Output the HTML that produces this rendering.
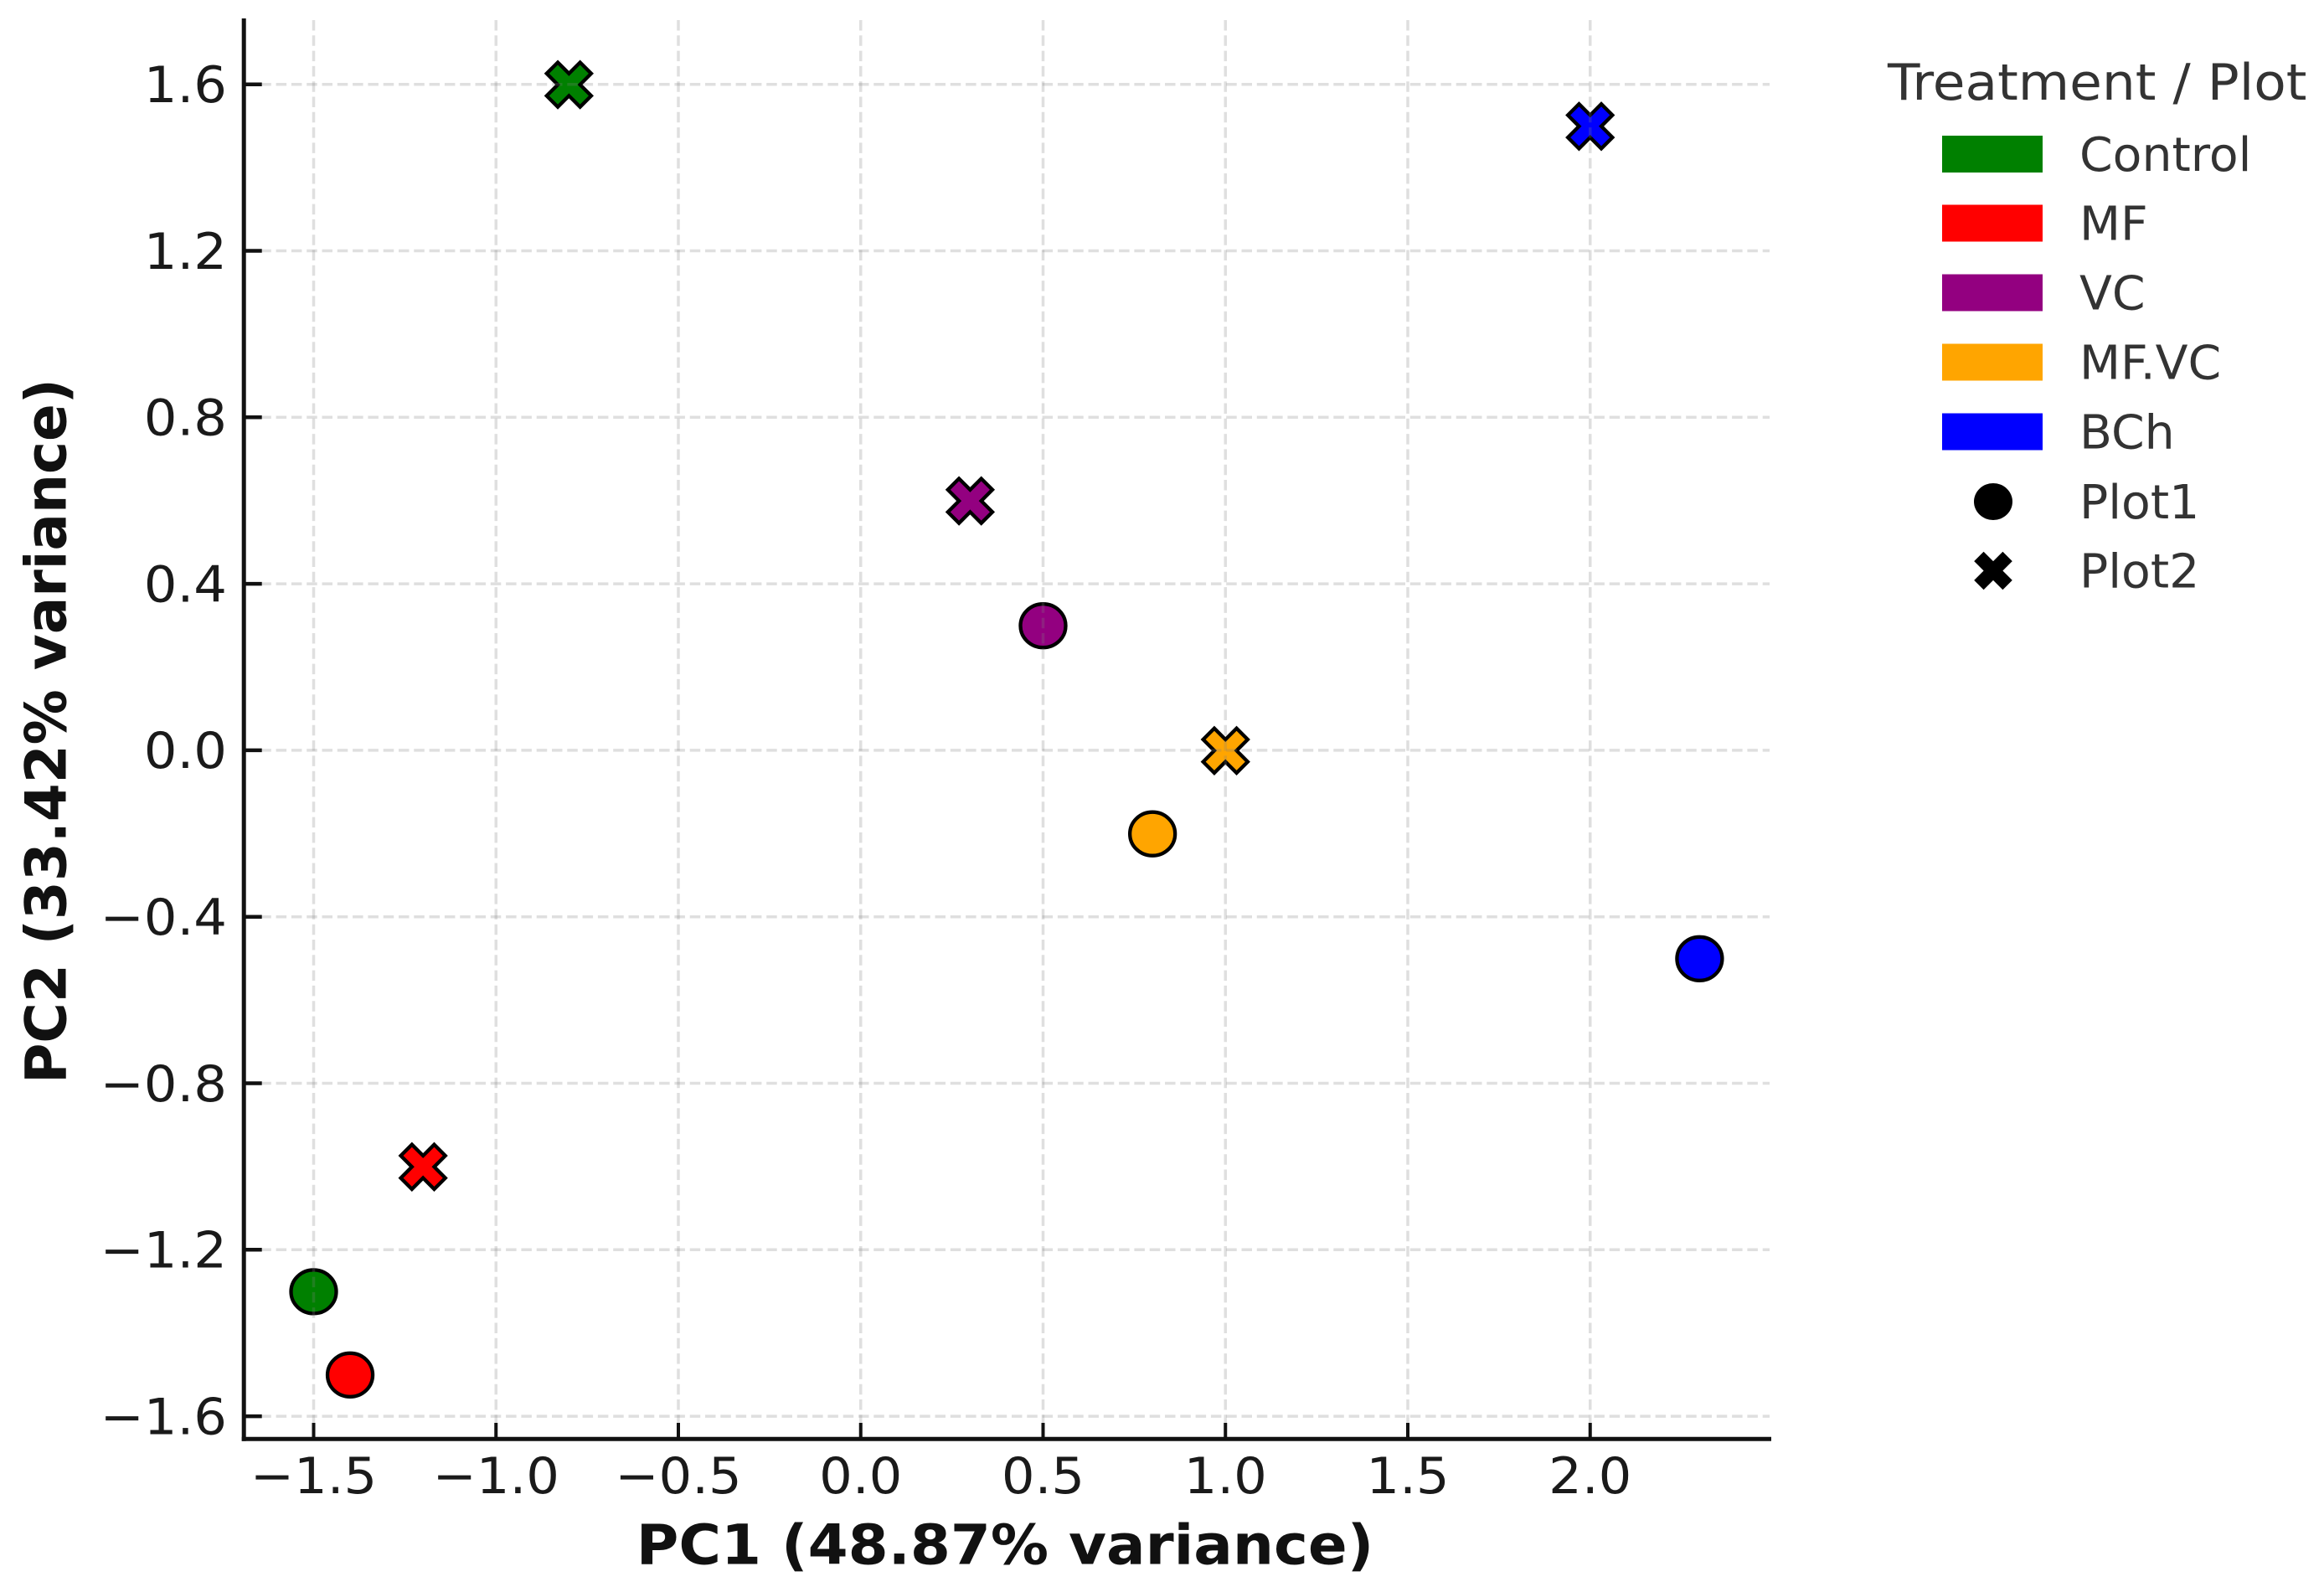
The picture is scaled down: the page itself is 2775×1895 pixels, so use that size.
<!DOCTYPE html>
<html>
<head>
<meta charset="utf-8">
<title>PCA scatter</title>
<style>
html,body{margin:0;padding:0;background:#fff;}
svg{display:block;font-family:"DejaVu Sans","Liberation Sans",sans-serif;}
</style>
</head>
<body>
<svg id="chart" xmlns="http://www.w3.org/2000/svg" width="2775" height="1895" viewBox="0 0 2775 1895">
<rect x="0" y="0" width="2775" height="1895" fill="#ffffff"/>
<g id="marks"></g>
<g id="grid"></g>
<g id="axes"></g>
<text transform="translate(1200 1867.5) scale(1.046 1)" text-anchor="middle" font-size="66" font-weight="700" fill="#111111">PC1 (48.87% variance)</text>
<text transform="translate(78.7 873) scale(1.03 1) rotate(-90)" text-anchor="middle" font-size="66" font-weight="700" fill="#111111">PC2 (33.42% variance)</text>
<g id="legend">
<text transform="translate(2254 119) scale(1.05 1)" font-size="60" fill="#333333">Treatment / Plot</text>
</g>
</svg>
<script>
const xTickValues = [-1.5, -1.0, -0.5, 0.0, 0.5, 1.0, 1.5, 2.0];
const xTickLabels = ['−1.5', '−1.0', '−0.5', '0.0', '0.5', '1.0', '1.5', '2.0'];
const yTickValues = [1.6, 1.2, 0.8, 0.4, 0.0, -0.4, -0.8, -1.2, -1.6];
const yTickLabels = ['1.6', '1.2', '0.8', '0.4', '0.0', '−0.4', '−0.8', '−1.2', '−1.6'];
const treatments = ['Control', 'MF', 'VC', 'MF.VC', 'BCh'];
const treatmentColors = ['#008000', '#ff0000', '#930080', '#ffa500', '#0000ff'];
const plot1X = [-1.5, -1.4, 0.5, 0.8, 2.3];
const plot1Y = [-1.3, -1.5, 0.3, -0.2, -0.5];
const plot2X = [-0.8, -1.2, 0.3, 1.0, 2.0];
const plot2Y = [1.6, -1.0, 0.6, 0.0, 1.5];

const NS = 'http://www.w3.org/2000/svg';
function xScale(v) { return 374.5 + (v + 1.5) * 435.5; }
function yScale(v) { return 100.7 + (1.6 - v) * 497; }
function mk(parent, tag, attrs, text) {
  const el = document.createElementNS(NS, tag);
  for (const k in attrs) el.setAttribute(k, attrs[k]);
  if (text !== undefined) el.textContent = text;
  parent.appendChild(el);
  return el;
}
const X_SHAPE = [[-1,-2],[0,-1],[1,-2],[2,-1],[1,0],[2,1],[1,2],[0,1],[-1,2],[-2,1],[-1,0],[-2,-1]];
function xPoints(cx, cy, u) {
  return X_SHAPE.map(function (p) { return (cx + p[0] * u).toFixed(2) + ',' + (cy + p[1] * u).toFixed(2); }).join(' ');
}

const marks = document.getElementById('marks');
const grid = document.getElementById('grid');
const axes = document.getElementById('axes');
const legend = document.getElementById('legend');

treatments.forEach(function (t, i) {
  const c = mk(marks, 'ellipse', { cx: xScale(plot1X[i]), cy: yScale(plot1Y[i]) + 0.4, rx: 27, ry: 26, fill: treatmentColors[i], stroke: '#000000', 'stroke-width': 4.3 });
  
  
  const m = mk(marks, 'polygon', { points: xPoints(xScale(plot2X[i]), yScale(plot2Y[i]) + 0.4, 13.3), fill: treatmentColors[i], stroke: '#000000', 'stroke-width': 4.3, 'stroke-linejoin': 'miter' });
  
  
});

xTickValues.forEach(function (v, i) {
  const px = xScale(v);
  const g = mk(grid, 'line', { x1: px, x2: px, y1: 24, y2: 1716, stroke: '#808080', 'stroke-opacity': 0.25, 'stroke-width': 3.5, 'stroke-dasharray': '12.5 5.8' });
  
  
  const t = mk(axes, 'line', { x1: px, x2: px, y1: 1699, y2: 1718, stroke: '#111111', 'stroke-width': 4 });
  
  
  const l = mk(axes, 'text', { transform: 'translate(' + px + ' 1783) scale(1.04 1)', 'text-anchor': 'middle', 'font-size': 60, fill: '#1a1a1a' }, xTickLabels[i]);
  
  
});
yTickValues.forEach(function (v, i) {
  const py = yScale(v);
  const g = mk(grid, 'line', { x1: 293, x2: 2113, y1: py, y2: py, stroke: '#808080', 'stroke-opacity': 0.25, 'stroke-width': 3.5, 'stroke-dasharray': '12.5 5.8' });
  
  
  const t = mk(axes, 'line', { x1: 291, x2: 312.7, y1: py, y2: py, stroke: '#111111', 'stroke-width': 4.5 });
  
  
  const l = mk(axes, 'text', { transform: 'translate(271 ' + (py + 21.3) + ') scale(1.04 1)', 'text-anchor': 'end', 'font-size': 60, fill: '#1a1a1a' }, yTickLabels[i]);
  
  
});

const ySpine = mk(axes, 'line', { x1: 291.2, x2: 291.2, y1: 22, y2: 1720.8, stroke: '#111111', 'stroke-width': 5 });


const xSpine = mk(axes, 'line', { x1: 288.7, x2: 2115, y1: 1718.3, y2: 1718.3, stroke: '#111111', 'stroke-width': 5 });



const legendRowY = [184, 266.5, 349.5, 432.5, 515.5, 599, 681.5];
treatments.forEach(function (t, i) {
  const r = mk(legend, 'rect', { x: 2319, y: legendRowY[i] - 22, width: 120, height: 44, fill: treatmentColors[i] });
  
  
  const l = mk(legend, 'text', { transform: 'translate(2483 ' + (legendRowY[i] + 20) + ') scale(1.015 1)', 'font-size': 56, fill: '#333333' }, t);
  
  
});
const lc = mk(legend, 'ellipse', { cx: 2380, cy: legendRowY[5], rx: 23, ry: 22, fill: '#000000' });


const ll1 = mk(legend, 'text', { transform: 'translate(2483 ' + (legendRowY[5] + 20) + ') scale(1.015 1)', 'font-size': 56, fill: '#333333' }, 'Plot1');


const lx = mk(legend, 'polygon', { points: xPoints(2380, legendRowY[6], 11.4), fill: '#000000' });


const ll2 = mk(legend, 'text', { transform: 'translate(2483 ' + (legendRowY[6] + 20) + ') scale(1.015 1)', 'font-size': 56, fill: '#333333' }, 'Plot2');


</script>
</body>
</html>
